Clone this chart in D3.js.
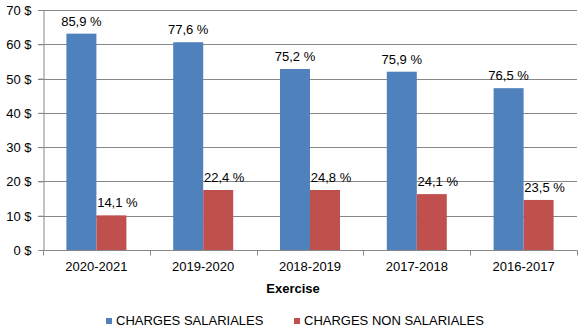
<!DOCTYPE html>
<html>
<head>
<meta charset="utf-8">
<script src="https://cdn.jsdelivr.net/npm/d3@7"></script>
<style>
  body { margin: 0; background: #fff; }
  svg text { font-family: "Liberation Sans", Arial, sans-serif; fill: #000; }
</style>
</head>
<body>
<div id="chart"></div>
<script>
// exercices et montants (en $) pour chaque type de charge
const exercices = ["2020-2021", "2019-2020", "2018-2019", "2017-2018", "2016-2017"];
const salariales = [63.1, 60.6, 52.8, 52.0, 47.2];
const nonSalariales = [10.1, 17.5, 17.5, 16.3, 14.6];
// pourcentages affiches au-dessus des barres
const pctSalariales = ["85,9 %", "77,6 %", "75,2 %", "75,9 %", "76,5 %"];
const pctNonSalariales = ["14,1 %", "22,4 %", "24,8 %", "24,1 %", "23,5 %"];
const yTicks = [0, 10, 20, 30, 40, 50, 60, 70];
const series = ["CHARGES SALARIALES", "CHARGES NON SALARIALES"];

const width = 583, height = 331;
const margin = { left: 43, right: 6, top: 10, bottom: 81 };
const colors = ["#4F81BD", "#C0504D"];

const svg = d3.select("#chart").append("svg")
  .attr("width", width)
  .attr("height", height);

const x = d3.scaleBand()
  .domain(exercices)
  .range([margin.left, width - margin.right]);

const sub = d3.scaleBand()
  .domain([0, 1])
  .range([0, x.bandwidth()])
  .paddingInner(0)
  .paddingOuter(0.78);

const y = d3.scaleLinear()
  .domain([0, 70])
  .range([height - margin.bottom, margin.top]);

// lignes de quadrillage
svg.append("g")
  .selectAll("line")
  .data(yTicks.filter(d => d > 0))
  .join("line")
  .attr("x1", margin.left - 5)
  .attr("x2", width - margin.right)
  .attr("y1", d => Math.round(y(d)) + 0.5)
  .attr("y2", d => Math.round(y(d)) + 0.5)
  .attr("stroke", "#878787");

// axe Y
const yAxis = svg.append("g")
  .attr("transform", `translate(${margin.left + 0.5},0)`)
  .call(d3.axisLeft(y).tickValues(yTicks).tickSize(5).tickPadding(7)
    .tickFormat(d => d + " $"));
yAxis.select(".domain").attr("stroke", "#878787");
yAxis.selectAll(".tick line").attr("stroke", "#878787");
yAxis.selectAll("text").style("font-size", "13px").attr("dy", "0.35em");

// barres
const groups = [salariales, nonSalariales];
const labels = [pctSalariales, pctNonSalariales];
groups.forEach((vals, s) => {
  svg.append("g")
    .selectAll("rect")
    .data(vals)
    .join("rect")
    .attr("x", (d, i) => x(exercices[i]) + sub(s))
    .attr("width", sub.bandwidth())
    .attr("y", d => y(d))
    .attr("height", d => y(0) - y(d))
    .attr("fill", colors[s]);

  svg.append("g")
    .selectAll("text")
    .data(vals)
    .join("text")
    .attr("x", (d, i) => x(exercices[i]) + sub(s) + sub.bandwidth() / 2 + (s === 1 ? 6 : 0))
    .attr("y", d => y(d) - 8)
    .attr("text-anchor", "middle")
    .style("font-size", "13px")
    .text((d, i) => labels[s][i]);
});

// axe X, graduations entre les exercices
const xAxis = svg.append("g")
  .attr("transform", `translate(0,${y(0) + 0.5})`);
xAxis.append("line")
  .attr("x1", margin.left)
  .attr("x2", width - margin.right)
  .attr("stroke", "#878787");
xAxis.selectAll(".sep")
  .data(exercices.concat(["fin"]))
  .join("line")
  .attr("class", "sep")
  .attr("x1", (d, i) => Math.round(margin.left + i * x.bandwidth()) + 0.5)
  .attr("x2", (d, i) => Math.round(margin.left + i * x.bandwidth()) + 0.5)
  .attr("y1", 0)
  .attr("y2", 5)
  .attr("stroke", "#878787");
xAxis.selectAll(".lbl")
  .data(exercices)
  .join("text")
  .attr("class", "lbl")
  .attr("x", d => x(d) + x.bandwidth() / 2)
  .attr("y", 20)
  .attr("text-anchor", "middle")
  .style("font-size", "13px")
  .text(d => d);

// titre de l'axe
svg.append("text")
  .attr("x", 293)
  .attr("y", 293)
  .attr("text-anchor", "middle")
  .style("font-size", "13px")
  .style("font-weight", "bold")
  .text("Exercise");

// legende
const legendX = [106, 294];
const legend = svg.append("g");
series.forEach((name, s) => {
  legend.append("rect")
    .attr("x", legendX[s])
    .attr("y", 318)
    .attr("width", 6)
    .attr("height", 6)
    .attr("fill", colors[s]);
  legend.append("text")
    .attr("x", legendX[s] + 10)
    .attr("y", 325)
    .style("font-size", "13px")
    .text(name);
});
</script>
</body>
</html>
